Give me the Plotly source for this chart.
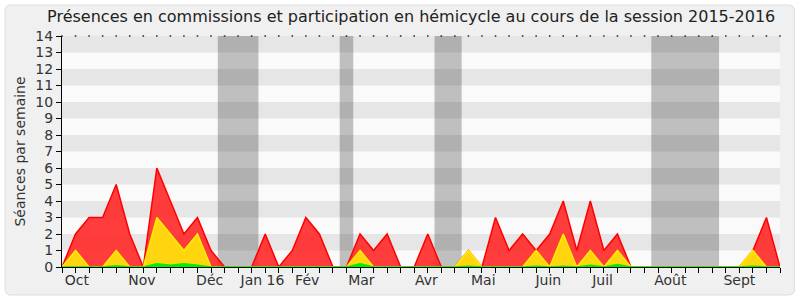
import plotly.graph_objects as go

# --- data ---
weeks = list(range(54))
red = [0, 2, 3, 3, 5, 2, 0, 6, 4, 2, 3, 1, 0, 0, 0, 2, 0, 1, 3, 2,
       0, 0, 2, 1, 2, 0, 0, 2, 0, 0, 1, 0, 3, 1, 2, 1, 2, 4, 1, 4,
       1, 2, 0, 0, 0, 0, 0, 0, 0, 0, 0, 1, 3, 0]
yellow = [0, 1, 0, 0, 1, 0, 0, 3, 2, 1, 2, 0, 0, 0, 0, 0, 0, 0, 0, 0,
          0, 0, 1, 0, 0, 0, 0, 0, 0, 0, 1, 0, 0, 0, 0, 1, 0, 2, 0, 1,
          0, 1, 0, 0, 0, 0, 0, 0, 0, 0, 0, 1, 0, 0]
green = [0, 0, 0, 0, 0.08, 0, 0, 0.2, 0.1, 0.2, 0.1, 0, 0, 0, 0, 0, 0, 0, 0, 0,
         0, 0, 0.2, 0, 0, 0, 0, 0, 0, 0, 0.05, 0, 0, 0, 0, 0.05, 0, 0.05, 0, 0.1,
         0, 0.15, 0, 0, 0, 0, 0, 0, 0, 0, 0, 0.05, 0, 0]
month_labels = ["Oct", "Nov", "Déc", "Jan 16", "Fév", "Mar", "Avr", "Mai",
                "Juin", "Juil", "Août", "Sept"]
month_pos = [1.1, 5.9, 10.9, 14.8, 18.1, 22.1, 26.9, 31.1, 35.9, 39.9, 44.9, 50.0]
vacations = [(12, 14), (21, 21), (28, 29), (44, 48)]
ymax = 14

FONT = "DejaVu Sans"
W, H = 800, 300
L, R, T, B = 62, 20, 36, 33
pw, ph = W - L - R, H - T - B

def px2paper_x(px):
    return (px - L) / pw

def px2paper_y(py):
    return (H - B - py) / ph

fig = go.Figure()

fig.add_trace(go.Scatter(x=weeks, y=red, mode="lines", fill="tozeroy",
                         line=dict(color="#ff0000", width=1.5),
                         fillcolor="rgba(255,40,40,0.9)", hoverinfo="skip"))
fig.add_trace(go.Scatter(x=weeks, y=yellow, mode="lines", fill="tozeroy",
                         line=dict(color="#ffee00", width=1.5),
                         fillcolor="#ffd510", hoverinfo="skip"))
fig.add_trace(go.Scatter(x=weeks, y=green, mode="lines", fill="tozeroy",
                         line=dict(color="#00ee00", width=1.5),
                         fillcolor="#00ee00", hoverinfo="skip"))
# dotted marks along the top
fig.add_trace(go.Scatter(x=weeks, y=[ymax] * len(weeks), mode="markers",
                         marker=dict(color="#333333", size=1.6, symbol="square",
                                     line=dict(width=0)),
                         hoverinfo="skip", cliponaxis=False))

shapes = []
# outer rounded frame
x0, x1 = px2paper_x(5), px2paper_x(794.5)
y0, y1 = px2paper_y(295), px2paper_y(5)
rx = 6 / pw
ry = 6 / ph
path = (f"M {x0+rx},{y1} L {x1-rx},{y1} Q {x1},{y1} {x1},{y1-ry} "
        f"L {x1},{y0+ry} Q {x1},{y0} {x1-rx},{y0} L {x0+rx},{y0} "
        f"Q {x0},{y0} {x0},{y0+ry} L {x0},{y1-ry} Q {x0},{y1} {x0+rx},{y1} Z")
shapes.append(dict(type="path", path=path, xref="paper", yref="paper",
                   fillcolor="#f0f0f0", line=dict(color="#dddddd", width=1),
                   layer="below"))
# plot background
shapes.append(dict(type="rect", xref="paper", yref="y", x0=0, x1=1, y0=0, y1=ymax,
                   fillcolor="#fafafa", line=dict(width=0), layer="below"))
# alternating stripes
for k in range(1, ymax, 2):
    shapes.append(dict(type="rect", xref="paper", yref="y", x0=0, x1=1,
                       y0=k, y1=k + 1, fillcolor="#e6e6e6", line=dict(width=0),
                       layer="below"))
# vacation bands
for a, b in vacations:
    shapes.append(dict(type="rect", xref="x", yref="y", x0=a - 0.5, x1=b + 0.5,
                       y0=0, y1=ymax, fillcolor="rgba(0,0,0,0.235)",
                       line=dict(width=0), layer="below"))

fig.update_layout(
    width=W, height=H,
    margin=dict(l=L, r=R, t=T, b=B),
    paper_bgcolor="#ffffff",
    plot_bgcolor="rgba(0,0,0,0)",
    showlegend=False,
    shapes=shapes,
    title=dict(text="Présences en commissions et participation en hémicycle au cours de la session 2015-2016",
               x=0.514, xanchor="center", y=0.945, yanchor="middle",
               font=dict(family=FONT, size=16, color="#222222")),
    font=dict(family=FONT, color="#333333"),
)
fig.update_xaxes(range=[0, 53], tickmode="array", tickvals=month_pos,
                 ticktext=month_labels, ticks="outside", ticklen=0,
                 tickfont=dict(size=14, color="#333333"),
                 showgrid=False, zeroline=False,
                 showline=True, linecolor="#000000", linewidth=1,
                 minor=dict(tickmode="linear", tick0=0, dtick=1, ticks="outside",
                            ticklen=5, tickcolor="#000000", showgrid=False))
fig.update_yaxes(range=[0, ymax], tickmode="linear", tick0=0, dtick=1,
                 ticks="outside", ticklen=5, tickcolor="#000000",
                 tickfont=dict(size=14, color="#333333"),
                 showgrid=False, zeroline=False,
                 showline=True, linecolor="#000000", linewidth=1,
                 title=dict(text="Séances par semaine", standoff=6,
                            font=dict(size=14, color="#333333")))

fig.write_html("out.html")
